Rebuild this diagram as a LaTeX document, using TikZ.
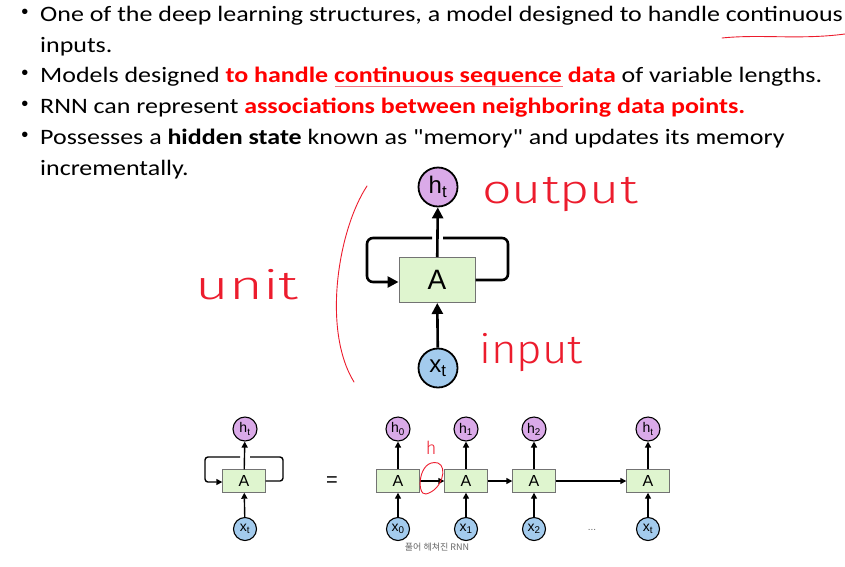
\documentclass[tikz,border=0pt]{standalone}
\usepackage{fontspec}
\setmainfont{Carlito}
\newfontfamily\bodyfont{Carlito}
\newfontfamily\diafont{Liberation Sans}
\newfontfamily\korfont{Noto Sans CJK KR}
\newfontfamily\inkfont{Fira Sans Light}
\usetikzlibrary{arrows.meta}

\definecolor{hpurple}{RGB}{218,170,232}
\definecolor{xblue}{RGB}{163,203,237}
\definecolor{cellgreen}{RGB}{223,245,207}
\definecolor{inkred}{RGB}{236,28,45}
\definecolor{pptred}{RGB}{255,0,0}

\newcommand{\slidewide}[1]{\scalebox{1.18}[1]{#1}}
\newcommand{\inkwide}[2]{\scalebox{#1}[1]{#2}}

\begin{document}
\begin{tikzpicture}[x=1pt, y=-1pt,
        txt/.style={anchor=base west, inner sep=0pt, font=\bodyfont\fontsize{22}{26}\selectfont},
        bullet/.style={anchor=center, inner sep=0pt, font=\diafont\fontsize{20}{20}\selectfont},
        hnode/.style={draw, circle, fill=hpurple, inner sep=0pt, font=\diafont},
        xnode/.style={draw, circle, fill=xblue, inner sep=0pt, font=\diafont},
        cell/.style={draw=black!55, fill=cellgreen, inner sep=0pt, font=\diafont},
        ink/.style={inkred, line width=0.9pt, line cap=round},
        inktxt/.style={inkred, inner sep=0pt, font=\inkfont\fontsize{40}{40}\selectfont},
        bigflow/.style={-{Triangle[length=11pt,width=11pt]}, line width=2.6pt},
        smallflow/.style={-{Triangle[length=6pt,width=6pt]}, line width=1.4pt}]
        \useasboundingbox (0,0) rectangle (845,566);

        % Text
        \node[bullet] (b1) at (25,14) {•};
        \node[txt] (l1) at (40,21) {\slidewide{One of the deep learning structures, a model designed to handle continuous}};
        \node[txt] (l2) at (40,52) {\slidewide{inputs.}};
        \node[bullet] (b2) at (25,75) {•};
        \node[txt] (l3) at (40,82) {\slidewide{Models designed \textcolor{pptred}{\textbf{to handle continuous sequence data}} of variable lengths.}};
        \node[bullet] (b3) at (25,106) {•};
        \node[txt] (l4) at (40,113) {\slidewide{RNN can represent \textcolor{pptred}{\textbf{associations between neighboring data points.}}}};
        \node[bullet] (b4) at (25,137) {•};
        \node[txt] (l5) at (40,144) {\slidewide{Possesses a \textbf{hidden state} known as "memory" and updates its memory}};
        \node[txt] (l6) at (40,175) {\slidewide{incrementally.}};

        % Unit
        \node[hnode, line width=1.8pt, minimum size=39pt, font=\diafont\fontsize{24}{24}\selectfont] (h) at (438,187) {h\textsubscript{t}};
        \node[cell, line width=1pt, minimum width=76pt, minimum height=45pt, font=\diafont\fontsize{28}{28}\selectfont] (A) at (437,280) {A};
        \node[xnode, line width=1.8pt, minimum size=39pt, font=\diafont\fontsize{24}{24}\selectfont] (x) at (438,368) {x\textsubscript{t}};
        \coordinate (rr) at (508,238);
        \coordinate (rg) at (443,238);
        \coordinate (lg) at (432,238);
        \coordinate (ll) at (367,282);

        \draw[bigflow] (x) -- (A);
        \draw[bigflow] (A) -- (h);
        \draw[line width=2.6pt, rounded corners=6pt] (A.east) -| (rr) -- (rg);
        \draw[bigflow, rounded corners=6pt] (lg) -| (ll) -- (A.west |- ll);

        % Folded
        \node[hnode, line width=1.1pt, minimum size=24pt, font=\diafont\fontsize{14}{14}\selectfont] (hf) at (245,429) {h\textsubscript{t}};
        \node[cell, minimum width=43pt, minimum height=23pt, font=\diafont\fontsize{16}{16}\selectfont] (Af) at (244,481) {A};
        \node[xnode, line width=1.1pt, minimum size=23pt, font=\diafont\fontsize{14}{14}\selectfont] (xf) at (245,529) {x\textsubscript{t}};
        \coordinate (frr) at (283,457);
        \coordinate (frg) at (250,457);
        \coordinate (flg) at (240,457);
        \coordinate (fll) at (205,482);
        \draw[smallflow] (xf) -- (Af);
        \draw[smallflow] (Af) -- (hf);
        \draw[line width=1.4pt, rounded corners=3pt] (Af.east) -| (frr) -- (frg);
        \draw[smallflow, rounded corners=3pt] (flg) -| (fll) -- (Af.west |- fll);

        \node[font=\diafont\fontsize{20}{20}\selectfont] (eq) at (332,482) {=};

        % Unrolled
        \node[hnode, line width=1.1pt, minimum size=24pt, font=\diafont\fontsize{14}{14}\selectfont] (h0) at (398,429) {h\textsubscript{0}};
        \node[cell, minimum width=43pt, minimum height=23pt, font=\diafont\fontsize{16}{16}\selectfont] (A0) at (398,481) {A};
        \node[xnode, line width=1.1pt, minimum size=23pt, font=\diafont\fontsize{14}{14}\selectfont] (x0) at (398,529) {x\textsubscript{0}};
        \node[hnode, line width=1.1pt, minimum size=24pt, font=\diafont\fontsize{14}{14}\selectfont] (h1) at (466,429) {h\textsubscript{1}};
        \node[cell, minimum width=43pt, minimum height=23pt, font=\diafont\fontsize{16}{16}\selectfont] (A1) at (466,481) {A};
        \node[xnode, line width=1.1pt, minimum size=23pt, font=\diafont\fontsize{14}{14}\selectfont] (x1) at (466,529) {x\textsubscript{1}};
        \node[hnode, line width=1.1pt, minimum size=24pt, font=\diafont\fontsize{14}{14}\selectfont] (h2) at (534,429) {h\textsubscript{2}};
        \node[cell, minimum width=43pt, minimum height=23pt, font=\diafont\fontsize{16}{16}\selectfont] (A2) at (534,481) {A};
        \node[xnode, line width=1.1pt, minimum size=23pt, font=\diafont\fontsize{14}{14}\selectfont] (x2) at (534,529) {x\textsubscript{2}};
        \node[hnode, line width=1.1pt, minimum size=24pt, font=\diafont\fontsize{14}{14}\selectfont] (ht) at (648,429) {h\textsubscript{t}};
        \node[cell, minimum width=43pt, minimum height=23pt, font=\diafont\fontsize{16}{16}\selectfont] (At) at (648,481) {A};
        \node[xnode, line width=1.1pt, minimum size=23pt, font=\diafont\fontsize{14}{14}\selectfont] (xt) at (648,529) {x\textsubscript{t}};
        \node[font=\diafont\fontsize{10}{10}\selectfont, text=black!60] (dots) at (592,530) {...};
        \node[font=\korfont\fontsize{9}{9}\selectfont, text=black!60] (cap) at (437,547) {풀어 헤쳐진 RNN};

        \draw[smallflow] (x0) -- (A0);
        \draw[smallflow] (A0) -- (h0);
        \draw[smallflow] (x1) -- (A1);
        \draw[smallflow] (A1) -- (h1);
        \draw[smallflow] (x2) -- (A2);
        \draw[smallflow] (A2) -- (h2);
        \draw[smallflow] (xt) -- (At);
        \draw[smallflow] (At) -- (ht);
        \draw[smallflow] (A0) -- (A1);
        \draw[smallflow] (A1) -- (A2);
        \draw[smallflow] (A2) -- (At);

        % Handwriting
        \node[inktxt] (out) at (560,194) {\inkwide{1.3}{output}};
        \node[inktxt] (unit) at (247,285) {\inkwide{1.45}{unit}};
        \node[inktxt] (inp) at (531,353) {\inkwide{1.1}{input}};
        \node[inkred, inner sep=0pt, font=\inkfont\fontsize{18}{18}\selectfont] (hh) at (431,448) {h};
        \draw[ink] (367,186) .. controls (338,230) and (322,330) .. (354,382);
        \draw[ink] (722,38) .. controls (760,34) and (800,40) .. (845,34);
        \draw[inkred!60, line width=0.7pt] (335,86) -- (563,86);
        \draw[ink] (438,463) .. controls (418,458) and (416,496) .. (426,494) .. controls (442,490) and (448,467) .. (438,463);
\end{tikzpicture}
\end{document}
